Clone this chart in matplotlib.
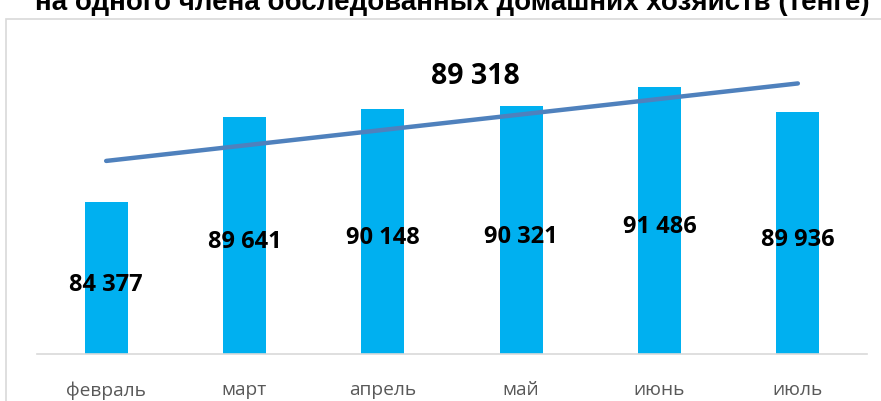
import matplotlib.pyplot as plt
from matplotlib.patches import Rectangle
import numpy as np

# данные
months = ['февраль', 'март', 'апрель', 'май', 'июнь', 'июль']
income = [84377, 89641, 90148, 90321, 91486, 89936]
title = 'на одного члена обследованных домашних хозяйств (тенге)'

W, H = 881, 402
fig = plt.figure(figsize=(W / 100, H / 100), dpi=100)

# рамка области диаграммы
top = 1 - 20 / H
fig.patches.append(Rectangle((6 / W, -0.1), 1.2, top + 0.1,
                             transform=fig.transFigure, fill=False,
                             edgecolor='#d9d9d9', linewidth=1.2))

ax = fig.add_axes([37 / W, 1 - 355 / H, (867 - 37) / W, (355 - 15) / H])
x = np.arange(len(months))
ax.bar(x, income, width=0.31, color='#00b0f0', zorder=2)

# линейный тренд
k, b = np.polyfit(x, income, 1)
ax.plot(x, k * x + b, color='#4f81bd', linewidth=3.2, solid_capstyle='round', zorder=3)

ax.set_xlim(-0.5, len(months) - 0.5)
ax.set_ylim(75000, 96000)

# подписи значений в середине столбцов
for i, v in enumerate(income):
    ax.annotate(f'{v:,}'.replace(',', ' '), (i, (75000 + v) / 2), xytext=(0, -4),
                textcoords='offset points', ha='center', va='center',
                fontsize=17, fontweight='bold', family='Open Sans', color='black', zorder=4)

avg = np.mean(income)
ax.text(2.67, 92200, f'{avg:,.0f}'.replace(',', ' '), ha='center', va='center',
        fontsize=20.5, fontweight='bold', family='Open Sans', color='black')

ax.set_xticks(x)
ax.set_xticklabels(months, family='Open Sans', fontsize=13.8, color='#595959')
ax.tick_params(axis='x', length=0, pad=19)
ax.set_yticks([])
for s in ['top', 'right', 'left']:
    ax.spines[s].set_visible(False)
ax.spines['bottom'].set_color('#d9d9d9')
ax.spines['bottom'].set_linewidth(1.2)

fig.text(452 / W, 1 - 10 / H, title, ha='center', va='baseline', fontsize=20,
         fontweight='bold', family='Liberation Sans', color='black')

fig.savefig('out.png', dpi=100)
